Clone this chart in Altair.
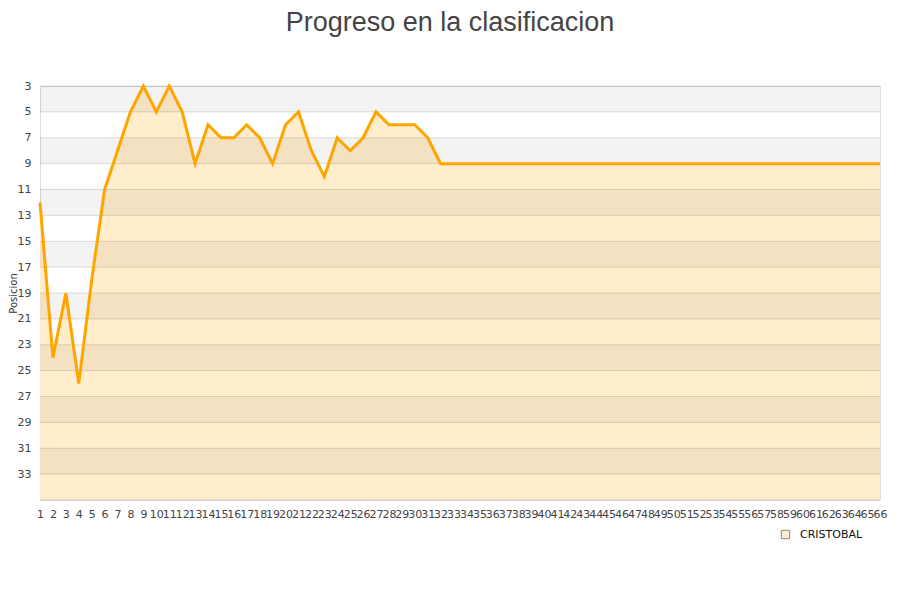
import altair as alt
import pandas as pd

jornadas = list(range(1, 67))
posiciones = [12, 24, 19, 26, 18, 11, 8, 5, 3, 5, 3, 5, 9, 6, 7, 7, 6, 7, 9, 6,
              5, 8, 10, 7, 8, 7, 5, 6, 6, 6, 7, 9, 9, 9, 9, 9, 9, 9, 9, 9,
              9, 9, 9, 9, 9, 9, 9, 9, 9, 9, 9, 9, 9, 9, 9, 9, 9, 9, 9, 9,
              9, 9, 9, 9, 9, 9]
serie = "CRISTOBAL"
yticks = [3, 5, 7, 9, 11, 13, 15, 17, 19, 21, 23, 25, 27, 29, 31, 33, 35]
ylabels = yticks[:-1]

df = pd.DataFrame({"j": jornadas, "pos": posiciones, "serie": serie})
bands = pd.DataFrame({"y0": yticks[0:-1:2], "y1": yticks[1::2]})
grid = pd.DataFrame({"g": yticks})

W, H = 840, 414
xs = alt.Scale(domain=[1, 66], nice=False, zero=False)
ys = alt.Scale(domain=[3, 35], reverse=True, nice=False, zero=False)

xaxis = alt.Axis(values=jornadas, labelOverlap=False, labelFlush=False, title=None,
                 labelPadding=8, ticks=False, domain=False, grid=False, labelAngle=0,
                 labelFont="DejaVu Sans", labelFontSize=11, labelColor="#444")
yaxis = alt.Axis(values=ylabels, title="Posicion", ticks=False, domain=False, grid=False,
                 labelPadding=9, titleFontSize=10, titleFontWeight="normal",
                 titleColor="#333", titleX=-23.5, titleY=H / 2, titleFont="DejaVu Sans",
                 titleBaseline="alphabetic", titleAngle=270,
                 labelFont="DejaVu Sans", labelFontSize=11, labelColor="#444",
                 labelOverlap=False)

area = alt.Chart(df).mark_area(opacity=1).encode(
    x=alt.X("j:Q", scale=xs, axis=xaxis),
    y=alt.Y("pos:Q", scale=ys, axis=yaxis),
    y2=alt.datum(35),
    fill=alt.Fill("serie:N", scale=alt.Scale(domain=[serie], range=["#ffedcc"]),
                  legend=alt.Legend(title=None, orient="none", legendX=740, legendY=443,
                                    symbolType="square", symbolSize=70,
                                    symbolStrokeColor="#888", symbolStrokeWidth=1,
                                    labelFont="DejaVu Sans", labelFontSize=11,
                                    labelColor="#111", labelOffset=9)),
)

band = alt.Chart(bands).mark_rect(color="black", opacity=0.047).encode(
    y=alt.Y("y0:Q", scale=ys, axis=yaxis),
    y2="y1:Q",
    x=alt.value(0),
    x2=alt.value(W),
)

rules = alt.Chart(grid).mark_rule(color="black", opacity=0.12, strokeWidth=1).encode(
    y=alt.Y("g:Q", scale=ys, axis=yaxis),
    x=alt.value(0),
    x2=alt.value(W),
)

line = alt.Chart(df).mark_line(color="#ffa500", strokeWidth=3).encode(
    x=alt.X("j:Q", scale=xs, axis=xaxis),
    y=alt.Y("pos:Q", scale=ys, axis=yaxis),
)

chart = alt.layer(area, band, rules, line).properties(
    width=W, height=H,
    title=alt.TitleParams("Progreso en la clasificacion", font="Liberation Sans",
                          fontSize=27, fontWeight="normal", color="#444",
                          anchor="middle", dx=-10, offset=43),
    padding={"left": 32, "top": 78, "right": 12, "bottom": 92},
    autosize=alt.AutoSizeParams(type="none"),
).configure_view(stroke="#d4d4d4").configure(background="white")

chart.save("out.html", embed_options={"renderer": "svg", "actions": False})
